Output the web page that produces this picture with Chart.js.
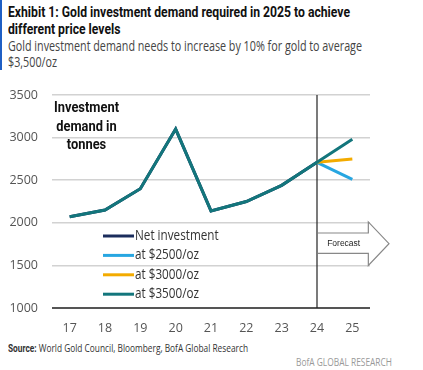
<!DOCTYPE html>
<html>
<head>
<meta charset="utf-8">
<script src="https://cdn.jsdelivr.net/npm/chart.js@4.4.1/dist/chart.umd.min.js"></script>
<style>
  body { margin: 0; background: #fff; width: 423px; height: 370px; position: relative; overflow: hidden; font-family: 'Open Sans', sans-serif; }
  .bar { position: absolute; left: 0; top: 0; width: 2px; height: 70px; background: #1f5fc4; }
  .fit { position: absolute; white-space: nowrap; transform-origin: 0 0; }
  .title { left: 8px; top: 4px; font-family: Roboto, sans-serif; font-size: 14.5px; font-weight: bold; line-height: 17px; color: #111; }
  .sub { left: 8px; top: 38px; font-size: 14px; line-height: 16px; color: #444; }
  .note { left: 54px; top: 99px; font-family: Roboto, sans-serif; font-size: 14.5px; font-weight: bold; line-height: 18.5px; color: #111; text-align: center; }
  .src { left: 8px; top: 341px; font-size: 10.5px; color: #333; }
  .src b { font-family: Roboto, sans-serif; }
  .brand { left: 296px; top: 355px; font-size: 10.5px; color: #999; }
  #wrap { position: absolute; left: 0; top: 80px; width: 423px; height: 260px; }
</style>
</head>
<body>
<div class="bar"></div>
<div class="fit title" data-w="342">Exhibit 1: Gold investment demand required in 2025 to achieve<br>different price levels</div>
<div class="fit sub" data-w="354">Gold investment demand needs to increase by 10% for gold to average<br>$3,500/oz</div>
<div id="wrap"><canvas id="chart" width="423" height="260"></canvas></div>
<div class="fit note" data-w="65">Investment<br>demand in<br>tonnes</div>
<div class="fit src" data-w="240"><b>Source:</b> World Gold Council, Bloomberg, BofA Global Research</div>
<div class="fit brand" data-w="96">BofA GLOBAL RESEARCH</div>
<script>
// donnees
const years = ['17', '18', '19', '20', '21', '22', '23', '24', '25'];
const netInvestment = [2070, 2150, 2400, 3100, 2140, 2250, 2440, 2710, null];
const scenarioLabels = ['at $2500/oz', 'at $3000/oz', 'at $3500/oz'];
const demand2025 = [2510, 2750, 2980];
const yTicks = [1000, 1500, 2000, 2500, 3000, 3500];
const lineColors = ['#1b2d5c', '#27a6e1', '#f3ab00', '#13767c'];

const lastActual = 7; // index de 2024

// compression horizontale des textes (police condensee absente)
document.querySelectorAll('.fit').forEach(el => {
    const w = el.getBoundingClientRect().width;
    el.style.transform = 'scaleX(' + (el.dataset.w / w) + ')';
});

// les scenarios partent du point 2024
function scenario(v, withHistory) {
    return netInvestment.map((d, i) => {
        if (i === years.length - 1) return v;
        if (withHistory || i === lastActual) return d;
        return null;
    });
}

const datasets = [
    { label: 'Net investment', data: netInvestment, borderColor: lineColors[0], order: 3 },
    { label: scenarioLabels[0], data: scenario(demand2025[0], false), borderColor: lineColors[1], order: 2 },
    { label: scenarioLabels[1], data: scenario(demand2025[1], false), borderColor: lineColors[2], order: 1 },
    { label: scenarioLabels[2], data: scenario(demand2025[2], true), borderColor: lineColors[3], order: 0 }
].map(ds => Object.assign(ds, { borderWidth: 3, pointRadius: 0, tension: 0, fill: false, spanGaps: false }));

const overlays = {
    id: 'overlays',
    beforeDatasetsDraw(chart) {
        const ctx = chart.ctx;
        const xs = chart.scales.x, ys = chart.scales.y, area = chart.chartArea;
        const x24 = xs.getPixelForValue(lastActual);
        ctx.save();
        // ligne verticale 2024
        ctx.strokeStyle = '#222';
        ctx.lineWidth = 1.2;
        ctx.beginPath();
        ctx.moveTo(x24, area.top);
        ctx.lineTo(x24, area.bottom);
        ctx.stroke();
        // fleche Forecast
        const headX = xs.getPixelForValue(years.length - 1) + 16;
        const tipX = area.right + 19;
        const bTop = ys.getPixelForValue(1880), bBot = ys.getPixelForValue(1640);
        const hTop = ys.getPixelForValue(2010), hBot = ys.getPixelForValue(1500);
        const mid = (hTop + hBot) / 2;
        ctx.beginPath();
        ctx.moveTo(x24 + 1, bTop);
        ctx.lineTo(headX, bTop);
        ctx.lineTo(headX, hTop);
        ctx.lineTo(tipX, mid);
        ctx.lineTo(headX, hBot);
        ctx.lineTo(headX, bBot);
        ctx.lineTo(x24 + 1, bBot);
        ctx.fillStyle = '#fff';
        ctx.fill();
        ctx.strokeStyle = '#888';
        ctx.lineWidth = 1.2;
        ctx.stroke();
        ctx.fillStyle = '#222';
        ctx.font = '8.5px "Liberation Sans", Arial, sans-serif';
        ctx.textAlign = 'center';
        ctx.textBaseline = 'middle';
        ctx.fillText('Forecast', (x24 + headX) / 2 + 1, (bTop + bBot) / 2);
        ctx.restore();
    },
    afterDraw(chart) {
        // legende dans la zone du graphique
        const ctx = chart.ctx;
        ctx.save();
        ctx.font = '14px "Open Sans", sans-serif';
        ctx.textBaseline = 'middle';
        ctx.textAlign = 'left';
        const k = 64 / ctx.measureText(scenarioLabels[0]).width;
        chart.data.datasets.forEach((ds, i) => {
            const y = 156 + i * 19.4;
            ctx.strokeStyle = ds.borderColor;
            ctx.lineWidth = 3;
            ctx.beginPath();
            ctx.moveTo(103, y);
            ctx.lineTo(134, y);
            ctx.stroke();
            ctx.save();
            ctx.translate(135, y);
            ctx.scale(k, 1);
            ctx.fillStyle = '#333';
            ctx.fillText(ds.label, 0, 0);
            ctx.restore();
        });
        ctx.restore();
    }
};

Chart.defaults.font.family = "'Open Sans', sans-serif";

new Chart(document.getElementById('chart').getContext('2d'), {
    type: 'line',
    data: { labels: years, datasets: datasets },
    options: {
        responsive: false,
        animation: false,
        layout: { padding: { top: 15, right: 53, left: 0, bottom: 0 } },
        plugins: { legend: { display: false }, tooltip: { enabled: false } },
        scales: {
            x: {
                offset: true,
                grid: { display: false },
                border: { display: false },
                ticks: { color: '#555', font: { size: 12.5 }, padding: 5 },
                afterFit: s => { s.height = 32; }
            },
            y: {
                min: yTicks[0],
                max: yTicks[yTicks.length - 1],
                afterBuildTicks: s => { s.ticks = yTicks.map(v => ({ value: v })); },
                border: { display: false },
                grid: {
                    drawTicks: false,
                    color: c => c.tick && c.tick.value === yTicks[0] ? '#555' : '#d2d2d2',
                    lineWidth: c => c.tick && c.tick.value === yTicks[0] ? 2 : 1.5
                },
                ticks: { color: '#555', font: { size: 12.5 }, padding: 14, callback: v => String(v) },
                afterFit: s => { s.width = 52; s.paddingTop = 0; s.paddingBottom = 0; }
            }
        }
    },
    plugins: [overlays]
});
</script>
</body>
</html>
